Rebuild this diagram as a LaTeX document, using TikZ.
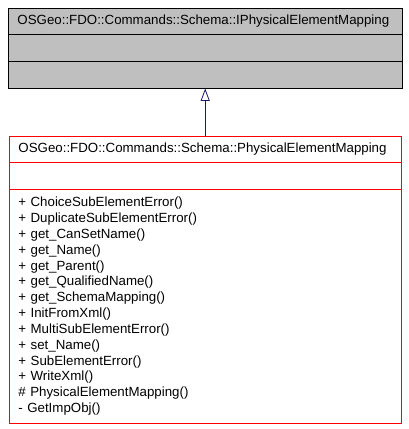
\documentclass[tikz,border=0pt]{standalone}
\usepackage{fontspec}
\setmainfont{Liberation Sans}
\usetikzlibrary{arrows.meta,positioning}
\definecolor{dxgray}{HTML}{BFBFBF}
\definecolor{dxblue}{HTML}{191970}
\tikzset{
  compart/.style={draw, line width=0.9pt, anchor=north west, inner xsep=9.5pt, inner ysep=0pt,
    align=left, font=\fontsize{13.3}{15.85}\selectfont},
  basecls/.style={compart, fill=dxgray, draw=black, text width=375.5pt},
  derivedcls/.style={compart, fill=white, draw=red, text width=373.5pt},
  inherit/.style={draw=dxblue, line width=0.8pt, -{Triangle[open,length=12.5pt,width=9pt]}}
}
\begin{document}
\begin{tikzpicture}[x=1pt,y=-1pt]
\useasboundingbox (0,0) rectangle (408,429);
% interface
\node[basecls, minimum height=26pt] (iname) at (7.5,7.5) {OSGeo::FDO::Commands::Schema::IPhysicalElementMapping};
\node[basecls, minimum height=27pt] (iattr) at (7.5,33.5) {};
\node[basecls, minimum height=27pt] (iops) at (7.5,60.5) {};
% implementation
\node[derivedcls, minimum height=26pt] (pname) at (8.5,135.5) {OSGeo::FDO::Commands::Schema::PhysicalElementMapping};
\node[derivedcls, minimum height=27pt] (pattr) at (8.5,161.5) {};
\node[derivedcls, minimum height=234.5pt] (pops) at (8.5,188.5) {%
+ ChoiceSubElementError()\\
+ DuplicateSubElementError()\\
+ get\_CanSetName()\\
+ get\_Name()\\
+ get\_Parent()\\
+ get\_QualifiedName()\\
+ get\_SchemaMapping()\\
+ InitFromXml()\\
+ MultiSubElementError()\\
+ set\_Name()\\
+ SubElementError()\\
+ WriteXml()\\
\# PhysicalElementMapping()\\
- GetImpObj()};
\draw[inherit] (pname.north) -- (iops.south);
\end{tikzpicture}
\end{document}
